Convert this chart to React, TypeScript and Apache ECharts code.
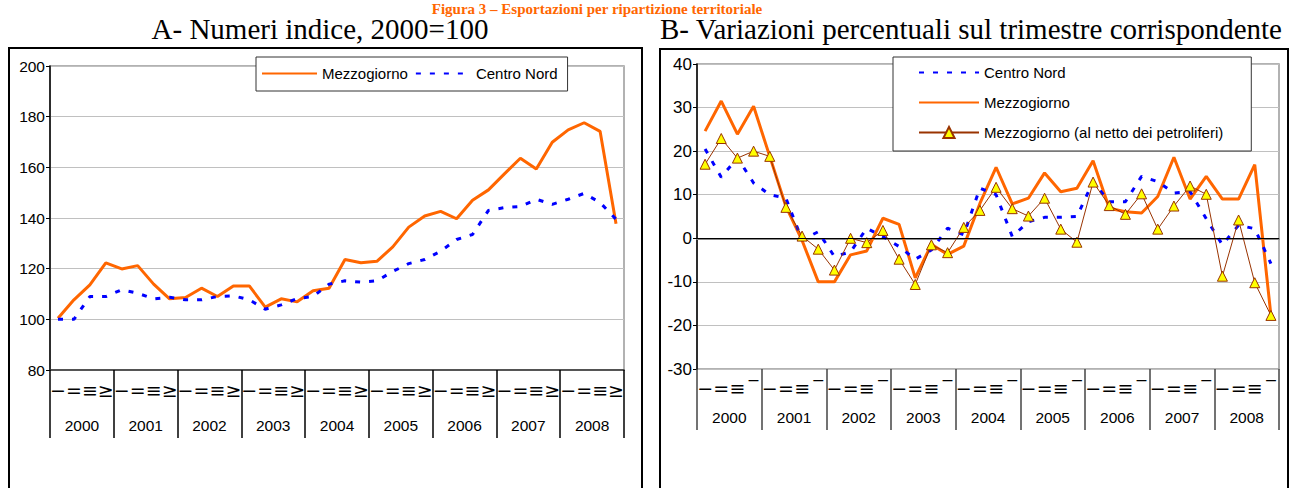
import React, { useEffect, useRef } from "react";
import * as echarts from "echarts";

const years = ["2000", "2001", "2002", "2003", "2004", "2005", "2006", "2007", "2008"];
const quartersA = ["−", "=", "≡", "≥"];
const quartersB = ["−", "=", "≡", "‾"];

const indexMezzogiorno = [
  100.4, 107.7, 113.6, 122.3, 119.9, 121.2, 113.9, 108.1, 108.6, 112.3, 109.0, 113.2,
  113.2, 104.8, 108.1, 106.9, 111.3, 112.3, 123.6, 122.3, 122.9, 128.6, 136.4, 140.8,
  142.6, 139.7, 147.0, 151.1, 157.4, 163.6, 159.3, 169.9, 174.8, 177.6, 174.2, 137.7,
];
const indexCentroNord = [
  100.0, 100.0, 109.0, 109.0, 111.7, 110.3, 108.1, 108.7, 107.7, 107.7, 109.0, 109.3,
  107.7, 104.0, 105.7, 108.2, 109.0, 113.9, 115.2, 114.7, 115.2, 118.9, 122.0, 123.6,
  126.9, 131.5, 133.5, 143.0, 144.1, 144.5, 147.4, 145.4, 147.4, 149.7, 146.1, 139.5,
];

const varCentroNord = [
  20.5, 14.0, 18.5, 12.7, 10.0, 9.2, -0.4, 1.5, -4.2, -3.1, 2.3, 0.4,
  -1.9, -4.8, -2.7, 2.3, 0.8, 11.5, 10.0, 0.4, 3.8, 4.8, 4.8, 5.0,
  13.0, 8.4, 8.4, 14.2, 13.0, 10.4, 10.7, 4.5, -1.5, 3.0, 2.2, -5.8,
];
const varMezzogiorno = [
  24.6, 31.5, 23.9, 30.3, 18.8, 7.3, -0.5, -10.0, -10.0, -3.8, -2.9, 4.6,
  3.2, -9.1, -1.4, -3.7, -1.8, 8.0, 16.3, 7.9, 9.2, 15.0, 10.7, 11.5,
  17.8, 6.9, 6.1, 5.8, 9.6, 18.6, 9.0, 14.2, 9.0, 9.0, 16.9, -17.7,
];
const varMezzogiornoNetto = [
  17.0, 22.9, 18.4, 20.0, 18.8, 7.1, 0.5, -2.5, -7.3, 0.0, -1.0, 1.8,
  -4.8, -10.6, -1.5, -3.3, 2.5, 6.4, 11.7, 6.8, 5.1, 9.2, 2.1, -0.9,
  12.9, 7.5, 5.5, 10.2, 2.1, 7.4, 12.0, 10.1, -8.7, 4.2, -10.2, -17.7,
];

const titleText = "Figura 3 – Esportazioni per ripartizione territoriale";
const subtitleA = "A- Numeri indice, 2000=100";
const subtitleB = "B- Variazioni percentuali sul trimestre corrispondente";

const catsA = years.flatMap((y) => quartersA.map((q) => y + " " + q));
const catsB = years.flatMap((y) => quartersB.map((q) => y + " " + q));

const SANS = '"Liberation Sans", Arial, sans-serif';
const SERIF = '"Liberation Serif", "Times New Roman", serif';

export default function App() {
  const ref = useRef<HTMLDivElement>(null);
  useEffect(() => {
    if (!ref.current) return;
    const chart = echarts.init(ref.current, null, { renderer: "svg" });
    const quarterLabel = (v: string) => v.slice(5);
    const noSymbol = { opacity: 0 };
    const option: any = {
      animation: false,
      backgroundColor: "#fff",
      textStyle: { fontFamily: SANS },
      grid: [
        { left: 50, top: 66, width: 574, height: 304, show: true, borderColor: "#999", borderWidth: 1.5 },
        { left: 697, top: 64, width: 582, height: 305, show: true, borderColor: "#999", borderWidth: 1.5 },
      ],
      xAxis: [
        {
          gridIndex: 0, type: "category", data: catsA, position: "bottom", boundaryGap: true,
          axisLine: { show: true, lineStyle: { color: "#333", width: 1.5 } },
          axisTick: { show: false },
          axisLabel: { interval: 0, margin: 10, fontSize: 19, fontFamily: "DejaVu Sans", color: "#000", formatter: quarterLabel },
          splitLine: { show: false },
        },
        {
          gridIndex: 0, type: "category", data: years, position: "bottom", boundaryGap: true,
          axisLine: { show: false },
          axisTick: { show: true, interval: 0, length: 68, lineStyle: { color: "#000", width: 1.5 } },
          axisLabel: { interval: 0, margin: 47, fontSize: 15.5, color: "#000" },
          splitLine: { show: false },
        },
        {
          gridIndex: 1, type: "category", data: catsB, position: "bottom", boundaryGap: true,
          axisLine: { show: true, lineStyle: { color: "#888", width: 2 } },
          axisTick: { show: false },
          axisLabel: { interval: 0, margin: 9, fontSize: 19, fontFamily: "DejaVu Sans", color: "#000", formatter: quarterLabel },
          splitLine: { show: false },
        },
        {
          gridIndex: 1, type: "category", data: years, position: "bottom", boundaryGap: true,
          axisLine: { show: false },
          axisTick: { show: true, interval: 0, length: 61, lineStyle: { color: "#444", width: 1.5 } },
          axisLabel: { interval: 0, margin: 40, fontSize: 15.5, color: "#000" },
          splitLine: { show: false },
        },
      ],
      yAxis: [
        {
          gridIndex: 0, type: "value", min: 80, max: 200, interval: 20,
          axisLine: { show: true, lineStyle: { color: "#000", width: 1.5 } },
          axisTick: { show: true, length: 4, lineStyle: { color: "#000" } },
          axisLabel: { fontSize: 15.5, color: "#000", margin: 5 },
          splitLine: { show: true, lineStyle: { color: "#C0C0C0", width: 1 } },
        },
        {
          gridIndex: 1, type: "value", min: -30, max: 40, interval: 10,
          axisLine: { show: true, onZero: false, lineStyle: { color: "#000", width: 1.5 } },
          axisTick: { show: true, length: 4, lineStyle: { color: "#000" } },
          axisLabel: { fontSize: 17, color: "#000", margin: 5 },
          splitLine: { show: true, lineStyle: { color: "#C0C0C0", width: 1 } },
        },
      ],
      legend: [
        {
          data: [
            { name: "Mezzogiorno", itemStyle: noSymbol },
            { name: "Centro Nord", itemStyle: noSymbol },
          ],
          orient: "horizontal", left: 256, top: 57,
          itemWidth: 55, itemHeight: 14, itemGap: 7,
          padding: [9, 10, 10, 5],
          borderColor: "#333", borderWidth: 1, backgroundColor: "#fff",
          textStyle: { fontSize: 15, color: "#000", fontFamily: SANS },
          selectedMode: false,
        },
        {
          data: [
            { name: "Centro Nord", itemStyle: noSymbol },
            { name: "Mezzogiorno", itemStyle: noSymbol },
            { name: "Mezzogiorno (al netto dei petroliferi)" },
          ],
          orient: "vertical", left: 893, top: 57,
          itemWidth: 60, itemHeight: 14, itemGap: 15,
          padding: [8, 28, 11, 25],
          borderColor: "#333", borderWidth: 1, backgroundColor: "#fff",
          textStyle: { fontSize: 15, color: "#000", fontFamily: SANS },
          selectedMode: false,
        },
      ],
      series: [
        {
          name: "Mezzogiorno", type: "line", xAxisIndex: 0, yAxisIndex: 0, data: indexMezzogiorno,
          symbol: "none", lineStyle: { color: "#FF6600", width: 3 }, itemStyle: { color: "#FF6600" }, z: 2,
        },
        {
          name: "Centro Nord", type: "line", xAxisIndex: 0, yAxisIndex: 0, data: indexCentroNord,
          symbol: "none", lineStyle: { color: "#0000FF", width: 3, type: [5, 9] }, itemStyle: { color: "#0000FF" }, z: 3,
        },
        {
          name: "Mezzogiorno", type: "line", xAxisIndex: 2, yAxisIndex: 1, data: varMezzogiorno,
          symbol: "none", lineStyle: { color: "#FF6600", width: 3 }, itemStyle: { color: "#FF6600" }, z: 2,
          markLine: {
            silent: true, symbol: "none", label: { show: false },
            lineStyle: { color: "#000", width: 1, type: "solid" },
            data: [{ yAxis: 0 }],
          },
        },
        {
          name: "Centro Nord", type: "line", xAxisIndex: 2, yAxisIndex: 1, data: varCentroNord,
          symbol: "none", lineStyle: { color: "#0000FF", width: 3, type: [5, 9] }, itemStyle: { color: "#0000FF" }, z: 3,
        },
        {
          name: "Mezzogiorno (al netto dei petroliferi)", type: "line", xAxisIndex: 2, yAxisIndex: 1,
          data: varMezzogiornoNetto, symbol: "triangle", symbolSize: 10, showSymbol: true,
          lineStyle: { color: "#993300", width: 1 },
          itemStyle: { color: "#FFFF00", borderColor: "#993300", borderWidth: 1 }, z: 4,
        },
      ],
      graphic: [
        {
          type: "text", x: 597, y: 1, silent: true,
          style: { text: titleText, fontSize: 15, fontWeight: "bold", fontFamily: SERIF, fill: "#FF6600", align: "center", verticalAlign: "top" },
        },
        {
          type: "text", x: 320, y: 29, silent: true,
          style: { text: subtitleA, fontSize: 29, fontFamily: SERIF, fill: "#000", align: "center", verticalAlign: "middle" },
        },
        {
          type: "text", x: 971, y: 29, silent: true,
          style: { text: subtitleB, fontSize: 29, fontFamily: SERIF, fill: "#000", align: "center", verticalAlign: "middle" },
        },
        {
          type: "rect", silent: true, shape: { x: 9, y: 48, width: 633, height: 460 },
          style: { fill: "none", stroke: "#000", lineWidth: 2 },
        },
        {
          type: "rect", silent: true, shape: { x: 660, y: 49, width: 628, height: 460 },
          style: { fill: "none", stroke: "#000", lineWidth: 2 },
        },
      ],
    };
    chart.setOption(option);
    return () => chart.dispose();
  }, []);
  return (
    <div
      ref={ref}
      style={{ position: "absolute", left: 0, top: 0, width: 1289, height: 488, background: "#fff" }}
    />
  );
}
